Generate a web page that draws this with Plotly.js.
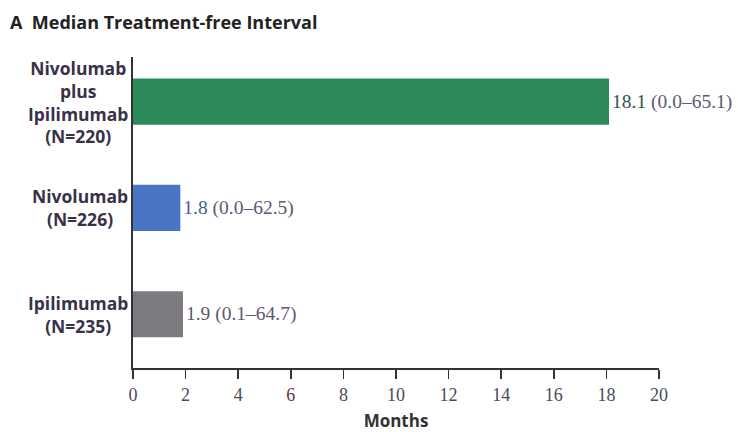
<!DOCTYPE html>
<html>
<head>
<meta charset="utf-8">
<script src="https://cdn.plot.ly/plotly-3.0.1.min.js"></script>
<style>
  html, body { margin: 0; padding: 0; background: #fff; }
  #chart { width: 738px; height: 432px; }
</style>
</head>
<body>
<div id="chart"></div>
<script>
// Treatment groups, top to bottom
const groups = ['Nivolumab plus Ipilimumab', 'Nivolumab', 'Ipilimumab'];
const groupLabels = ['Nivolumab<br>plus<br>Ipilimumab<br>(N=220)', 'Nivolumab<br>(N=226)', 'Ipilimumab<br>(N=235)'];
// Median treatment-free interval (months) with range
const medians = [18.1, 1.8, 1.9];
const rangeLow = [0.0, 0.0, 0.1];
const rangeHigh = [65.1, 62.5, 64.7];
const xTicks = [0, 2, 4, 6, 8, 10, 12, 14, 16, 18, 20];

const barColors = ['#2b8a57', '#4a74c4', '#7d7a80'];
const medianColors = ['#2f5446', '#4b5a8c', '#5a5a6e'];
const rangeColor = '#5e5874';

const valueText = medians.map((m, i) =>
  '<span style="color:' + medianColors[i] + '">' + m.toFixed(1) + '</span> (' +
  rangeLow[i].toFixed(1) + '\u2013' + rangeHigh[i].toFixed(1) + ')');

const trace = {
  type: 'bar',
  orientation: 'h',
  y: groups,
  x: medians,
  width: 0.433,
  marker: { color: barColors, line: { width: 0 } },
  text: valueText,
  textposition: 'outside',
  cliponaxis: false,
  textfont: { family: 'Liberation Serif, serif', size: 19.5, color: rangeColor },
  hoverinfo: 'skip'
};

const labelFont = { family: 'Open Sans, sans-serif', size: 17.5, color: '#3a3048', weight: 700 };

const annotations = groups.map((g, i) => ({
  xref: 'paper', yref: 'y',
  x: 0, y: g,
  xanchor: 'right', yanchor: 'middle',
  xshift: -3,
  text: '<b>' + groupLabels[i] + '</b>',
  showarrow: false,
  align: 'center',
  font: labelFont
}));

const layout = {
  width: 738,
  height: 432,
  margin: { l: 133, r: 79, t: 57, b: 64 },
  paper_bgcolor: '#ffffff',
  plot_bgcolor: '#ffffff',
  showlegend: false,
  title: {
    text: '<b>A  Median Treatment-free Interval</b>',
    xref: 'container', x: 10 / 738, xanchor: 'left',
    yref: 'container', y: 1 - 23 / 432, yanchor: 'middle',
    font: { family: 'Open Sans, sans-serif', size: 18, color: '#222' }
  },
  xaxis: {
    range: [0, 20],
    tickvals: xTicks,
    ticktext: xTicks.map(v => v === 6 ? '<span style="color:#6a3242">6</span>' : String(v)),
    showgrid: false,
    zeroline: false,
    showline: true,
    linecolor: '#333',
    linewidth: 2,
    ticks: 'outside',
    ticklen: 9,
    tickwidth: 1.5,
    tickcolor: '#333',
    tickfont: { family: 'Liberation Serif, serif', size: 18, color: '#4a4a5a' },
    title: {
      text: '<b>Months</b>',
      standoff: 17,
      font: { family: 'Open Sans, sans-serif', size: 17, color: '#333' }
    },
    fixedrange: true
  },
  yaxis: {
    type: 'category',
    categoryorder: 'array',
    categoryarray: groups,
    range: [2.507, -0.42],
    showticklabels: false,
    showgrid: false,
    zeroline: false,
    showline: true,
    linecolor: '#333',
    linewidth: 2,
    ticks: '',
    fixedrange: true
  },
  annotations: annotations
};

Plotly.newPlot('chart', [trace], layout, { staticPlot: true, displayModeBar: false });
</script>
</body>
</html>
